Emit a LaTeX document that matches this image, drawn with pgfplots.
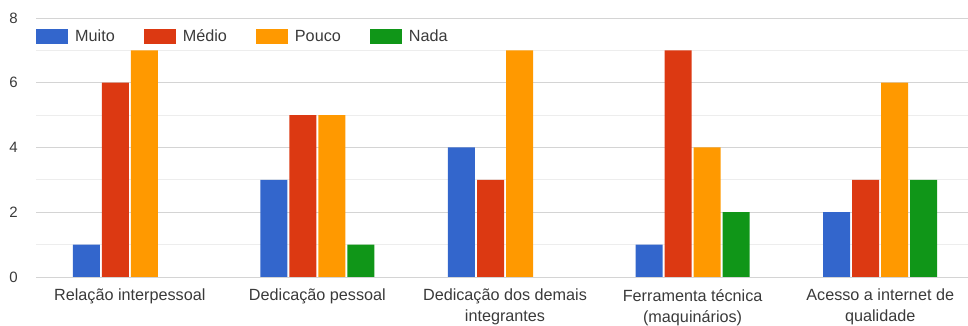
\documentclass[border=0pt]{standalone}
\usepackage{fontspec}
\setmainfont{Liberation Sans}
\usepackage{pgfplots}
\pgfplotsset{compat=1.18}
\definecolor{gblue}{HTML}{3366CC}
\definecolor{gred}{HTML}{DC3912}
\definecolor{gorange}{HTML}{FF9900}
\definecolor{ggreen}{HTML}{109618}
\definecolor{gtext}{HTML}{3A3A3A}
\pgfplotsset{gleg/.style={legend image code/.code={\draw[##1,draw=none] (0pt,-7.5pt) rectangle (32pt,7.5pt);}}}
\begin{document}
\begin{tikzpicture}[x=1pt,y=1pt]
\path[use as bounding box] (-36,-49) rectangle (932,277);
\begin{axis}[
  at={(0,0)}, anchor=south west,
  scale only axis, width=932pt, height=259pt,
  xmin=-0.5, xmax=4.468, ymin=0, ymax=8,
  ybar, bar width=0.144,
  ytick={0,2,4,6,8}, minor ytick={1,3,5,7},
  xtick={0,1,2,3,4},
  xticklabels={Relação interpessoal, Dedicação pessoal, {Dedicação dos demais\\integrantes}, {Ferramenta técnica\\(maquinários)}, {Acesso a internet de\\qualidade}},
  /pgf/number format/assume math mode=true,
  ymajorgrids, yminorgrids,
  major grid style={draw=black!17, line width=0.9pt},
  minor grid style={draw=black!7, line width=0.9pt},
  extra y ticks={0}, extra y tick labels={},
  extra y tick style={grid style={draw=black!70, line width=1.1pt}},
  axis line style={draw=none},
  major tick length=0pt, minor tick length=0pt,
  tick style={draw=none},
  yticklabel style={font=\fontsize{15}{18}\selectfont, text=gtext, anchor=east, inner sep=0pt, xshift=-18pt},
  xticklabel style={font=\fontsize{16.2}{21}\selectfont, text=gtext, anchor=north, align=center, inner sep=0pt, yshift=-12pt},
  legend columns=4,
  legend style={at={(axis description cs:0,0.9305)}, anchor=west, draw=none, fill=none, inner sep=0pt,
    font=\fontsize{16.2}{19}\selectfont, text=gtext,
    nodes={text height=11.6pt, text depth=0pt},
    /tikz/every odd column/.append style={column sep=5pt},
    /tikz/every even column/.append style={column sep=27pt}},
  legend cell align=left,
]
\addplot[fill=gblue, draw=none, bar shift=-0.232, gleg]
  coordinates {(0,1) (1,3) (2,4) (3,1) (4,2)};
\addplot[fill=gred, draw=none, bar shift=-0.0773, gleg]
  coordinates {(0,6) (1,5) (2,3) (3,7) (4,3)};
\addplot[fill=gorange, draw=none, bar shift=0.0773, gleg]
  coordinates {(0,7) (1,5) (2,7) (3,4) (4,6)};
\addplot[fill=ggreen, draw=none, bar shift=0.232, gleg]
  coordinates {(1,1) (3,2) (4,3)};
\legend{Muito,Médio,Pouco,Nada}
\end{axis}
\end{tikzpicture}
\end{document}
